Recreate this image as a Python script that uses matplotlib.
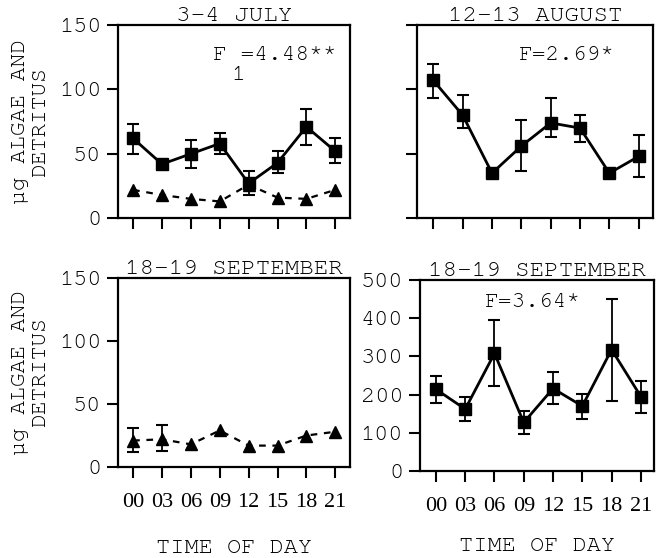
import numpy as np
import matplotlib
matplotlib.use("Agg")
import matplotlib.pyplot as plt

# time of day labels
hours = ['00', '03', '06', '09', '12', '15', '18', '21']

# 3-4 July: squares (solid) with error bar ends, triangles (dashed)
july_sq = [62, 42, 50, 58, 27, 43, 71, 52]
july_sq_hi = [73, 42, 61, 66, 37, 52, 85, 62]
july_sq_lo = [50, 42, 39, 50, 18, 35, 57, 43]
july_tri = [22, 18, 15, 13, 26, 16, 15, 22]

# 12-13 August: squares
aug_sq = [107, 80, 35, 56, 74, 70, 35, 48]
aug_sq_hi = [120, 96, 35, 76, 93, 80, 35, 65]
aug_sq_lo = [93, 70, 35, 37, 63, 59, 35, 32]

# 18-19 September: triangles (left panel)
sep_tri = [21, 22, 18, 29, 17, 17, 25, 28]
sep_tri_hi = [31, 33, 18, 29, 17, 17, 25, 28]
sep_tri_lo = [12, 13, 18, 29, 17, 17, 25, 28]

# 18-19 September: squares (right panel)
sep_sq = [214, 162, 308, 127, 216, 170, 318, 195]
sep_sq_hi = [249, 193, 395, 158, 258, 202, 450, 236]
sep_sq_lo = [179, 131, 223, 96, 175, 136, 183, 151]

# courier-like first, fall back to Liberation Mono
MONO = ['Nimbus Mono PS', 'FreeMono', 'Courier New', 'Liberation Mono']
SERIF = ['Liberation Serif']


def draw_series(ax, vals, hi, lo, marker, ls, ms):
    x = np.arange(len(vals))
    vals = np.array(vals, dtype=float)
    hi = np.array(hi, dtype=float)
    lo = np.array(lo, dtype=float)
    m = (hi - lo) > 0
    if m.any():
        ax.errorbar(x[m], vals[m], yerr=[vals[m] - lo[m], hi[m] - vals[m]],
                    fmt='none', ecolor='black', elinewidth=1.3,
                    capsize=4.5, capthick=1.5, zorder=2)
    if ls == 'dashed':
        ax.plot(x, vals, color='black', lw=1.6, dashes=(3, 3),
                marker=marker, ms=ms, zorder=3)
    else:
        ax.plot(x, vals, color='black', lw=2, marker=marker, ms=ms, zorder=3)


def style_axes(ax, title, ymax, yticks, xlim, show_xlabels, show_ylabels, xlabelpad=16):
    ax.set_xlim(*xlim)
    ax.set_ylim(0, ymax)
    ax.set_xticks(np.arange(len(hours)))
    ax.set_yticks(yticks)
    for s in ax.spines.values():
        s.set_linewidth(1.6)
    ax.tick_params(axis='x', direction='out', length=8, width=1.5, pad=11,
                   labelbottom=show_xlabels)
    ax.tick_params(axis='y', direction='out', length=8, width=1.5, pad=4,
                   labelleft=show_ylabels)
    if show_xlabels:
        ax.set_xticklabels(hours, family=SERIF, fontsize=16)
        ax.set_xlabel('TIME OF DAY', family=MONO, fontsize=17, labelpad=xlabelpad)
    if show_ylabels:
        ax.set_yticklabels([str(t) for t in yticks], family=MONO, fontsize=17)
    ax.set_title(title, family=MONO, fontsize=17.5, pad=1)


fig = plt.figure(figsize=(6.56, 5.58), dpi=100)

ax1 = fig.add_axes([0.180, 0.609, 0.354, 0.346])
ax2 = fig.add_axes([0.636, 0.609, 0.360, 0.346])
ax3 = fig.add_axes([0.180, 0.163, 0.354, 0.339])
ax4 = fig.add_axes([0.640, 0.156, 0.357, 0.342])

ylab = '\u00b5g ALGAE AND\nDETRITUS'

# 3-4 July
draw_series(ax1, july_tri, july_tri, july_tri, '^', 'dashed', 8)
draw_series(ax1, july_sq, july_sq_hi, july_sq_lo, 's', 'solid', 8.5)
style_axes(ax1, '3-4 JULY', 150, [0, 50, 100, 150], (-0.52, 7.52), False, True)
ax1.text(0.41, 0.82, 'F =4.48**', transform=ax1.transAxes, family=MONO,
         fontsize=16.5, va='baseline', ha='left')
ax1.text(0.49, 0.715, '1', transform=ax1.transAxes, family=MONO,
         fontsize=16.5, va='baseline', ha='left')
ax1.set_ylabel(ylab, family=MONO, fontsize=16.5, linespacing=1.15, labelpad=7)

# 12-13 August
draw_series(ax2, aug_sq, aug_sq_hi, aug_sq_lo, 's', 'solid', 8.5)
style_axes(ax2, '12-13 AUGUST', 150, [0, 50, 100, 150], (-0.55, 7.5), False, False)
ax2.text(0.43, 0.82, 'F=2.69*', transform=ax2.transAxes, family=MONO,
         fontsize=16.5, va='baseline', ha='left')

# 18-19 September (triangles)
draw_series(ax3, sep_tri, sep_tri_hi, sep_tri_lo, '^', 'dashed', 8)
style_axes(ax3, '18-19 SEPTEMBER', 150, [0, 50, 100, 150], (-0.52, 7.52),
           True, True, xlabelpad=19)
ax3.set_ylabel(ylab, family=MONO, fontsize=16.5, linespacing=1.15, labelpad=7)

# 18-19 September (squares)
draw_series(ax4, sep_sq, sep_sq_hi, sep_sq_lo, 's', 'solid', 8.5)
style_axes(ax4, '18-19 SEPTEMBER', 500, [0, 100, 200, 300, 400, 500],
           (-0.55, 7.45), True, True, xlabelpad=15)
ax4.text(0.28, 0.86, 'F=3.64*', transform=ax4.transAxes, family=MONO,
         fontsize=16.5, va='baseline', ha='left')

fig.savefig('out.png', dpi=100)
